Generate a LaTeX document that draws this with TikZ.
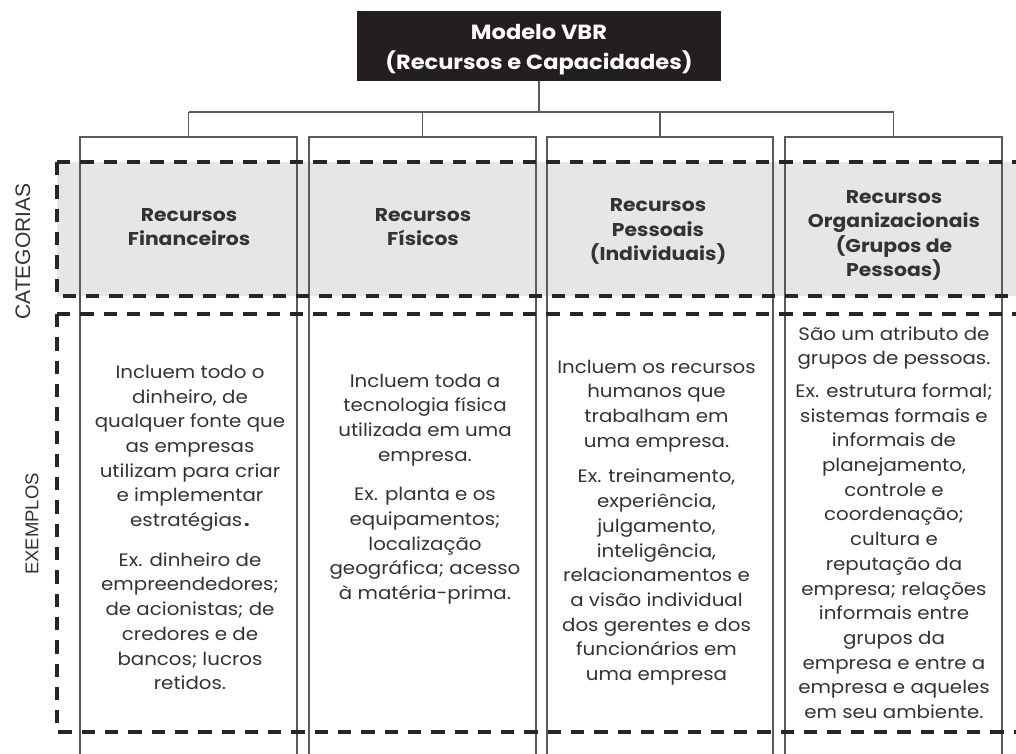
\documentclass[tikz,border=0pt]{standalone}
\usepackage{fontspec}
\setmainfont{Poppins}[FakeStretch=1.1]
\newfontfamily\labfont{Liberation Sans}
\definecolor{catgray}{HTML}{E5E6E7}
\definecolor{linegray}{HTML}{5A5A5A}
\definecolor{ink}{HTML}{333333}
\definecolor{titlebg}{HTML}{231F20}
\begin{document}
\begin{tikzpicture}[x=1pt,y=-1pt,
  colbox/.style={draw=linegray, line width=1.1pt, minimum width=#1, minimum height=640pt, anchor=north west, inner sep=0pt, outer sep=0pt},
  dashbox/.style={draw=black!85, line width=3.3pt, dash pattern=on 13.3pt off 10pt},
  wire/.style={draw=linegray, line width=1.1pt},
  cattext/.style={font=\bfseries\fontsize{18.5}{24.5}\selectfont, align=center, text=ink, inner sep=0pt},
  bodytext/.style={font=\fontsize{18}{24.7}\selectfont, align=center, text=ink, inner sep=0pt},
  sidelabel/.style={font=\labfont, rotate=90, text=ink, inner sep=0pt},
  titlebox/.style={fill=titlebg, minimum width=364pt, minimum height=70pt, inner sep=0pt},
  titletext/.style={text=white, font=\bfseries\fontsize{20.5}{30}\selectfont, align=center, inner sep=0pt}
]
\useasboundingbox (0,0) rectangle (1016,753);
\fill[white] (0,0) rectangle (1016,753);

% gray category band
\fill[catgray] (57,162) rectangle (1016,296);

% title
\node[titlebox] (title) at (539,46) {};
\node[titletext] (titlelbl) at ([yshift=-4pt]title.center) {Modelo VBR\\(Recursos e Capacidades)};

% columns
\node[colbox=217pt] (c1) at (80,137) {};
\node[colbox=227pt] (c2) at (309,137) {};
\node[colbox=226pt] (c3) at (547,137) {};
\node[colbox=217pt] (c4) at (785,137) {};

% connectors
\coordinate (bus) at (0,112);
\draw[wire] (title.south) -- (title.south |- bus);
\draw[wire] (c1.north |- bus) -- (c4.north |- bus);
\foreach \c in {c1,c2,c3,c4} \draw[wire] (\c.north |- bus) -- (\c.north);

% dashed boxes
\draw[dashbox] (57,162) -- (1020,162);
\draw[dashbox] (57,162) -- (57,296) -- (1020,296);
\draw[dashbox] (57,314) -- (1020,314);
\draw[dashbox] (57,314) -- (57,732) -- (1020,732);

% side labels
\node[sidelabel, font=\labfont\fontsize{21}{21}\selectfont] (lcat) at (23,251.5) {CATEGORIAS};
\node[sidelabel, font=\labfont\fontsize{18.5}{18.5}\selectfont] (lex) at (32,524) {EXEMPLOS};

% category texts
\node[cattext] (t1) at (189,227) {Recursos\\Financeiros};
\node[cattext] (t2) at (423,227) {Recursos\\Físicos};
\node[cattext] (t3) at (658,231.5) {Recursos\\Pessoais\\(Individuais)};
\node[cattext] (t4) at (894,235.5) {Recursos\\Organizacionais\\(Grupos de\\Pessoas)};

% example texts
\node[bodytext] (b1) at (190,527.5) {Incluem todo o\\dinheiro, de\\qualquer fonte que\\as empresas\\utilizam para criar\\e implementar\\estratégias\hspace{2pt}\textbf{.}\\[15pt]Ex. dinheiro de\\empreendedores;\\de acionistas; de\\credores e de\\bancos; lucros\\retidos.};
\node[bodytext] (b2) at (425,489) {Incluem toda a\\tecnologia física\\utilizada em uma\\empresa.\\[15pt]Ex. planta e os\\equipamentos;\\localização\\geográfica; acesso\\à matéria-prima.};
\node[bodytext] (b3) at (656.5,522.5) {Incluem os recursos\\humanos que\\trabalham em\\uma empresa.\\[11pt]Ex. treinamento,\\experiência,\\julgamento,\\inteligência,\\relacionamentos e\\a visão individual\\dos gerentes e dos\\funcionários em\\uma empresa};
\node[bodytext] (b4) at (894,522.5) {São um atributo de\\grupos de pessoas.\\[8pt]Ex. estrutura formal;\\sistemas formais e\\informais de\\planejamento,\\controle e\\coordenação;\\cultura e\\reputação da\\empresa; relações\\informais entre\\grupos da\\empresa e entre a\\empresa e aqueles\\em seu ambiente.};
\end{tikzpicture}
\end{document}
